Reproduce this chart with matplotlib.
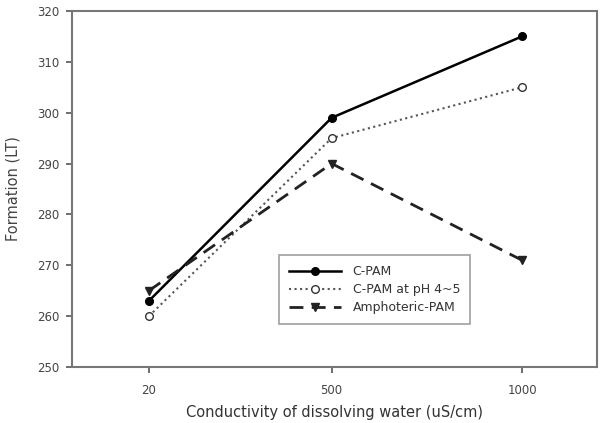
import numpy as np
import matplotlib
matplotlib.use('Agg')
import matplotlib.pyplot as plt

plt.rcParams['font.family'] = ['DejaVu Sans']

# Donnees
conductivite = [20, 500, 1000]
cpam = [263, 299, 315]
cpam_ph = [260, 295, 305]
amphoteric = [265, 290, 271]
yticks = [250, 260, 270, 280, 290, 300, 310, 320]

fig = plt.figure(figsize=(6.04, 4.23), dpi=100)
ax = fig.add_axes([0.1192, 0.1324, 0.8692, 0.8416])

ax.plot(conductivite, cpam, '-', color='black', linewidth=1.8,
        marker='o', markersize=5.5, label='C-PAM')
ax.plot(conductivite, cpam_ph, ':', color='#555555', linewidth=1.5,
        marker='o', markersize=5.5, markerfacecolor='white',
        markeredgecolor='#333333', label='C-PAM at pH 4~5')
ax.plot(conductivite, amphoteric, '--', color='#222222', linewidth=2,
        dashes=(5, 3), marker='v', markersize=6, label='Amphoteric-PAM')

ax.set_xlim(-182, 1197)
ax.set_ylim(250, 320)
ax.set_xticks(conductivite)
ax.set_xticklabels([str(c) for c in conductivite])
ax.set_yticks(yticks)

for s in ax.spines.values():
    s.set_color('#777777')
    s.set_linewidth(1.5)
ax.tick_params(direction='out', length=4, width=1.2, color='#555555',
               labelsize=8.5, labelcolor='#444444')
ax.tick_params(axis='x', pad=8)
ax.tick_params(axis='y', pad=5)

ax.set_xlabel('Conductivity of dissolving water (uS/cm)', fontsize=10.5,
              color='#333333', labelpad=6)
ax.set_ylabel('Formation (LT)', fontsize=10.5, color='#444444', labelpad=12)

leg = ax.legend(loc='upper left', bbox_to_anchor=(0.394, 0.3146),
                borderaxespad=0, fontsize=9, frameon=True, fancybox=False,
                edgecolor='#888888', handlelength=4.2, handletextpad=0.9,
                borderpad=0.8, labelspacing=0.4)
leg.get_frame().set_linewidth(1.2)
for t in leg.get_texts():
    t.set_color('#333333')

plt.savefig('out.png', dpi=100)
